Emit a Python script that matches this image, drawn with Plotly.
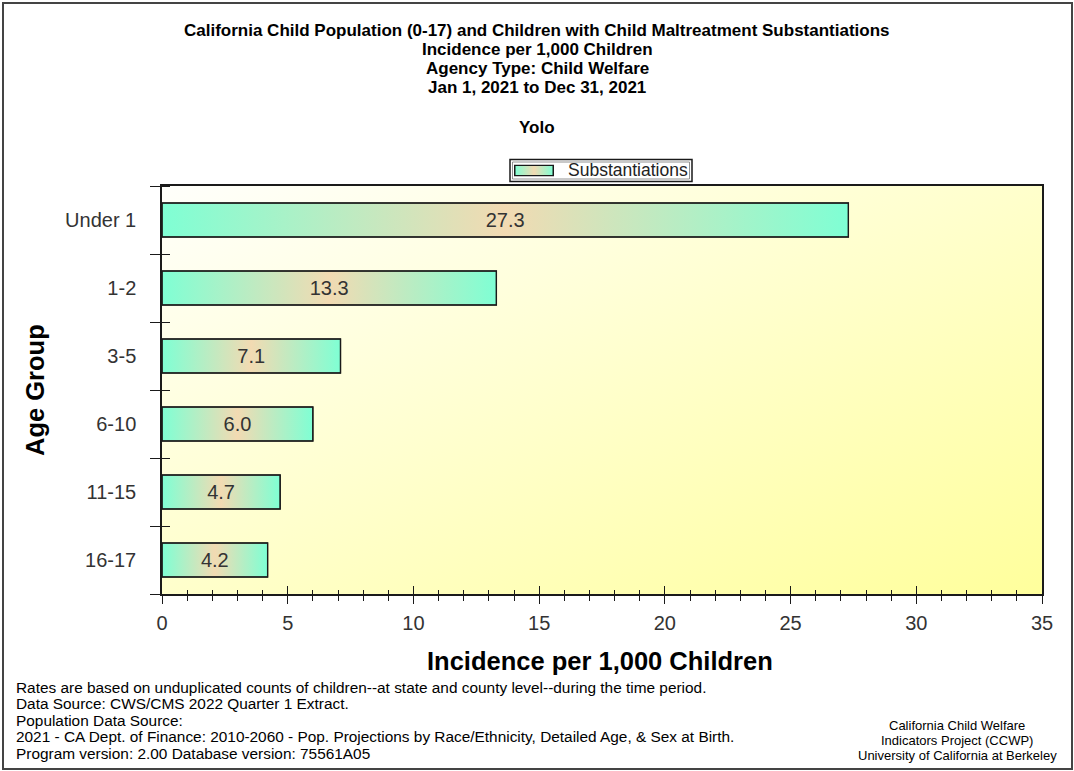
import base64
import plotly.graph_objects as go

# ---- data ----
age_groups = ["Under 1", "1-2", "3-5", "6-10", "11-15", "16-17"]
rates = [27.3, 13.3, 7.1, 6.0, 4.7, 4.2]
x_tick_values = [0, 5, 10, 15, 20, 25, 30, 35]
series_name = "Substantiations"

title_lines = [
    "California Child Population (0-17) and Children with Child Maltreatment Substantiations",
    "Incidence per 1,000 Children",
    "Agency Type: Child Welfare",
    "Jan 1, 2021 to Dec 31, 2021",
]
county = "Yolo"
notes_left = [
    "Rates are based on unduplicated counts of children--at state and county level--during the time period.",
    "Data Source: CWS/CMS 2022 Quarter 1 Extract.",
    "Population Data Source:",
    "2021 - CA Dept. of Finance: 2010-2060 - Pop. Projections by Race/Ethnicity, Detailed Age, & Sex at Birth.",
    "Program version: 2.00 Database version: 75561A05",
]
notes_right = [
    "California Child Welfare",
    "Indicators Project (CCWP)",
    "University of California at Berkeley",
]

# ---- styling ----
FONT = "Liberation Sans, Arial, sans-serif"
AQUA = "#7FFFD4"
TAN = "#F2DAB2"
INK = "#1a1a1a"
W, H = 1074, 771
PL, PR, PT, PB = 162, 1042, 186, 594


def px(x):
    return (x - PL) / (PR - PL)


def py(y):
    return (PB - y) / (PB - PT)


def svg_uri(svg):
    return "data:image/svg+xml;base64," + base64.b64encode(svg.encode()).decode()


bar_w = 0.5
idx = list(range(len(age_groups)))
bounds = [i - 0.5 for i in idx] + [idx[-1] + 0.5]
bar_scale = [[0, AQUA], [0.5, TAN], [1, AQUA]]

fig = go.Figure()

# gradient-filled bar bodies
for i, v in zip(idx, rates):
    lo, hi = i - bar_w / 2, i + bar_w / 2
    fig.add_trace(go.Scatter(
        x=[0, v, v, 0, 0], y=[lo, lo, hi, hi, lo],
        mode="lines", fill="toself",
        fillgradient=dict(type="horizontal", colorscale=bar_scale),
        line=dict(color=INK, width=1.2),
        name=series_name, showlegend=False, hoverinfo="skip",
    ))

# bar outlines and value labels
fig.add_trace(go.Bar(
    y=idx, x=rates, orientation="h", width=bar_w, name=series_name,
    marker=dict(color="rgba(0,0,0,0)", line=dict(color=INK, width=1.3)),
    text=[f"{v:.1f}" for v in rates], textposition="inside",
    insidetextanchor="middle", constraintext="none",
    textfont=dict(family=FONT, size=20, color="#333333"),
    xaxis="x2", yaxis="y2", showlegend=False, cliponaxis=False,
))

# plot-area background gradient
bg_svg = ('<svg xmlns="http://www.w3.org/2000/svg" width="200" height="200">'
          '<defs><linearGradient id="g" x1="0" y1="0" x2="1" y2="1">'
          '<stop offset="0" stop-color="#FFFFFB"/>'
          '<stop offset="1" stop-color="#FFFF9C"/>'
          '</linearGradient></defs>'
          '<rect width="200" height="200" fill="url(#g)"/></svg>')
# legend swatch gradient
sw_svg = ('<svg xmlns="http://www.w3.org/2000/svg" width="40" height="12">'
          '<defs><linearGradient id="s" x1="0" y1="0" x2="1" y2="0">'
          f'<stop offset="0" stop-color="{AQUA}"/>'
          f'<stop offset="0.5" stop-color="{TAN}"/>'
          f'<stop offset="1" stop-color="{AQUA}"/>'
          '</linearGradient></defs>'
          '<rect x="0.75" y="0.75" width="38.5" height="10.5" fill="url(#s)" '
          'stroke="#1a1a1a" stroke-width="1.5"/></svg>')


def text_note(text, x, y, size, anchor="center", bold=False, angle=0, color="black"):
    return dict(text=f"<b>{text}</b>" if bold else text, x=px(x), y=py(y),
                xref="paper", yref="paper", showarrow=False, textangle=angle,
                font=dict(family=FONT, size=size, color=color),
                xanchor=anchor, yanchor="middle")


annotations = []
for k, line in enumerate(title_lines):
    annotations.append(text_note(line, 537, 30 + 19.3 * k, 17, bold=True))
annotations.append(text_note(county, 537, 127, 17, bold=True))
annotations.append(text_note("Incidence per 1,000 Children", 600, 661, 25.5, bold=True))
annotations.append(text_note("Age Group", 35, 390, 25.5, bold=True, angle=-90))
for k, line in enumerate(notes_left):
    annotations.append(text_note(line, 14, 687 + 16.5 * k, 15.4, anchor="left"))
for k, line in enumerate(notes_right):
    annotations.append(text_note(line, 957, 725 + 15 * k, 13))
annotations.append(text_note(series_name, 566, 170.5, 17.5, anchor="left", color="#222222"))

axis_line = dict(showline=True, linecolor=INK, linewidth=1.5, showgrid=False, zeroline=False)
tick_style = dict(tickwidth=1.3, tickcolor=INK)

fig.update_layout(
    width=W, height=H,
    margin=dict(l=PL, r=W - PR, t=PT, b=H - PB, pad=0),
    paper_bgcolor="white", plot_bgcolor="rgba(0,0,0,0)",
    font=dict(family=FONT, color="#333333"),
    showlegend=False,
    xaxis=dict(range=[0, 35], tickvals=x_tick_values, ticks="outside", ticklen=8,
               mirror=True,
               minor=dict(dtick=1, tick0=0, ticks="outside", ticklen=5, **tick_style),
               tickfont=dict(family=FONT, size=20, color="#333333"),
               ticklabelstandoff=2, **tick_style, **axis_line),
    yaxis=dict(range=[5.5, -0.5], tickvals=idx, ticktext=age_groups, ticks="",
               mirror=True, ticklabelstandoff=20,
               minor=dict(tickvals=bounds, ticks="outside", ticklen=10, **tick_style),
               tickfont=dict(family=FONT, size=20, color="#333333"),
               **axis_line),
    xaxis2=dict(range=[0, 35], overlaying="x", anchor="y2", tickvals=x_tick_values,
                ticks="inside", ticklen=8, showticklabels=False, showgrid=False,
                zeroline=False,
                minor=dict(dtick=1, tick0=0, ticks="inside", ticklen=4, **tick_style),
                **tick_style),
    yaxis2=dict(range=[5.5, -0.5], overlaying="y", anchor="x2", tickvals=idx,
                ticks="", showticklabels=False, showgrid=False, zeroline=False,
                minor=dict(tickvals=bounds, ticks="inside", ticklen=8, **tick_style)),
    images=[
        dict(source=svg_uri(bg_svg), xref="paper", yref="paper", x=0, y=1,
             sizex=1, sizey=1, sizing="stretch", layer="below",
             xanchor="left", yanchor="top"),
        dict(source=svg_uri(sw_svg), xref="paper", yref="paper",
             x=px(514), y=py(164.5), sizex=px(554) - px(514), sizey=py(164.5) - py(176.5),
             sizing="stretch", layer="above", xanchor="left", yanchor="top"),
    ],
    shapes=[
        dict(type="rect", xref="paper", yref="paper",
             x0=px(3), x1=px(1072), y0=py(3), y1=py(769),
             line=dict(color="#444444", width=2), layer="below"),
        # legend frame
        dict(type="rect", xref="paper", yref="paper",
             x0=px(510), x1=px(692), y0=py(159.5), y1=py(181.5),
             fillcolor="white", line=dict(color=INK, width=1.5), layer="below"),
        dict(type="rect", xref="paper", yref="paper",
             x0=px(512.5), x1=px(689.5), y0=py(162), y1=py(179),
             line=dict(color="#777777", width=0.8), layer="below"),
    ],
    annotations=annotations,
)

fig.write_html("out.html")
